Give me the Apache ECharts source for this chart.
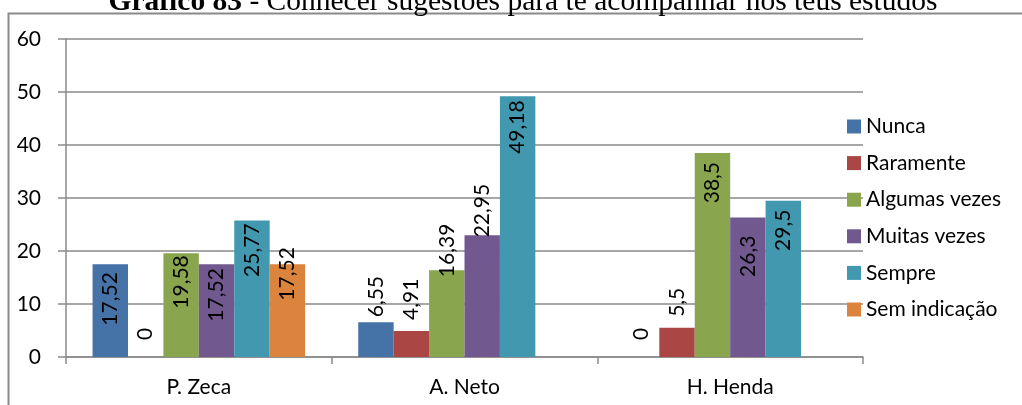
<!DOCTYPE html>
<html><head><meta charset="utf-8">
<script src="https://cdn.jsdelivr.net/npm/echarts@6/dist/echarts.min.js"></script>
<style>html,body{margin:0;padding:0;background:#fff}#c{width:1022px;height:405px}</style>
</head><body><div id="c"></div>
<script>
const categories = ['P. Zeca', 'A. Neto', 'H. Henda'];
const seriesNames = ['Nunca', 'Raramente', 'Algumas vezes', 'Muitas vezes', 'Sempre', 'Sem indicação'];
const nunca = [17.52, 6.55, 0];
const raramente = [0, 4.91, 5.5];
const algumasVezes = [19.58, 16.39, 38.5];
const muitasVezes = [17.52, 22.95, 26.3];
const sempre = [25.77, 49.18, 29.5];
const semIndicacao = [17.52, null, null];
const yTicks = [0, 10, 20, 30, 40, 50, 60];
const titleBold = 'Gráfico 83';
const titleRest = ' - Conhecer sugestões para te acompanhar nos teus estudos';

const values = [nunca, raramente, algumasVezes, muitasVezes, sempre, semIndicacao];
const colors = ['#4572A7', '#AA4643', '#89A54E', '#71588F', '#4198AF', '#DB843D'];
// label placement style: ['in', d] = text end d px below bar top; ['out', d] = text start d px above bar top
const labelPlace = [
  [['in', 8], ['out', 5], ['out', 17]],
  [['out', 17], ['out', 11], ['out', 11]],
  [['in', 2], ['out', -7], ['in', 9]],
  [['in', 4], ['out', -2], ['in', 18]],
  [['in', 3], ['in', 4], ['in', 9]],
  [['in', -17], null, null]
];
const FONT = 'Lato';
const FS = 21;
const gridCol = '#8a8a8a';

const fmt = v => String(v).replace('.', ',');

const series = seriesNames.map((name, si) => ({
  name, type: 'bar', barGap: 0, barCategoryGap: '20%',
  itemStyle: { color: colors[si] },
  data: values[si].map((v, ci) => {
    if (v === null) return null;
    const p = labelPlace[si][ci];
    const inside = p[0] === 'in';
    return {
      value: v,
      label: {
        show: true, rotate: 90,
        position: inside ? 'insideTop' : 'top',
        distance: p[1],
        align: inside ? 'right' : 'left',
        verticalAlign: 'middle',
        color: '#000', fontFamily: FONT, fontSize: FS,
        formatter: d => fmt(d.value)
      }
    };
  })
}));

const chart = echarts.init(document.getElementById('c'), null, { renderer: 'canvas' });
chart.setOption({
  animation: false,
  textStyle: { fontFamily: FONT },
  grid: { left: 66, right: 159, top: 39, bottom: 48, containLabel: false },
  legend: {
    orient: 'vertical', left: 847, top: 116, padding: 0,
    itemWidth: 14, itemHeight: 14, itemGap: 15.6,
    textStyle: { fontFamily: FONT, fontSize: FS, color: '#000' },
    icon: 'rect', data: seriesNames, selectedMode: false
  },
  xAxis: {
    type: 'category', data: categories,
    axisLine: { lineStyle: { color: gridCol, width: 1.5 } },
    axisTick: { show: true, length: 7, lineStyle: { color: gridCol, width: 1.5 } },
    axisLabel: { color: '#000', fontFamily: FONT, fontSize: FS, margin: 20 }
  },
  yAxis: {
    type: 'value', min: yTicks[0], max: yTicks[yTicks.length - 1], interval: yTicks[1] - yTicks[0],
    axisLine: { show: true, lineStyle: { color: gridCol, width: 1.5 } },
    axisTick: { show: true, length: 8, lineStyle: { color: gridCol, width: 1.5 } },
    splitLine: { lineStyle: { color: gridCol, width: 1.5 } },
    axisLabel: { color: '#000', fontFamily: FONT, fontSize: FS, margin: 25 }
  },
  graphic: [
    { type: 'rect', shape: { x: 8.5, y: 13.5, width: 1030, height: 400 }, style: { fill: 'none', stroke: '#8a8a8a', lineWidth: 2 }, z: -1, silent: true },
    { type: 'text', x: 523, y: 2, style: {
        text: '{b|' + titleBold + '}{r|' + titleRest + '}',
        align: 'center', verticalAlign: 'middle',
        rich: {
          b: { fontFamily: 'Liberation Serif', fontWeight: 'bold', fontSize: 29.5, fill: '#000' },
          r: { fontFamily: 'Liberation Serif', fontSize: 29.5, fill: '#000' }
        }
      }, silent: true }
  ],
  series
});
</script></body></html>
